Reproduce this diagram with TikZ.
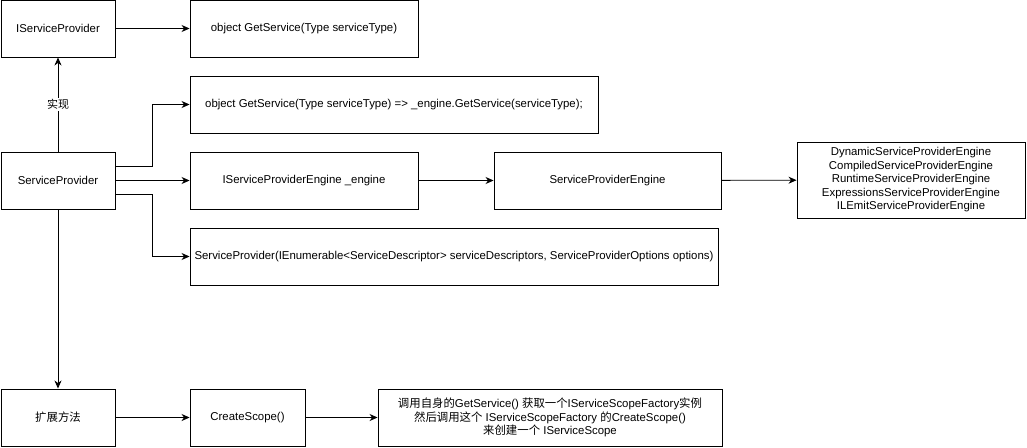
\documentclass[tikz,border=0pt]{standalone}
\usepackage{fontspec}
\setmainfont{Liberation Sans}
\newfontfamily\cjk{Noto Sans CJK SC}
\usetikzlibrary{arrows.meta}
\begin{document}
\begin{tikzpicture}[x=1pt,y=-1pt,
  box/.style={draw,line width=0.9pt,inner sep=2pt,align=center,font=\fontsize{11.4}{13.5}\selectfont},
  conn/.style={line width=0.9pt,-{Stealth[length=8pt,width=7pt,inset=2.5pt]}}]
\useasboundingbox (0,0) rectangle (1027,447);
\node[box,minimum width=114pt,minimum height=57pt] (isp) at (58,28.5) {IServiceProvider};
\node[box,minimum width=228pt,minimum height=57pt] (gs1) at (304,28.5) {object GetService(Type serviceType)};
\node[box,minimum width=408pt,minimum height=57pt] (gs2) at (394,104.5) {object GetService(Type serviceType) => \_engine.GetService(serviceType);};
\node[box,minimum width=114pt,minimum height=57pt] (sp) at (58,180.5) {ServiceProvider};
\node[box,minimum width=228pt,minimum height=57pt] (ispe) at (304,180.5) {IServiceProviderEngine \_engine};
\node[box,minimum width=227pt,minimum height=57pt] (spe) at (607.5,180.5) {ServiceProviderEngine};
\node[box,minimum width=228pt,minimum height=76pt] (eng) at (911,180) {DynamicServiceProviderEngine\\CompiledServiceProviderEngine\\RuntimeServiceProviderEngine\\ExpressionsServiceProviderEngine\\ILEmitServiceProviderEngine};
\node[box,minimum width=528pt,minimum height=57pt] (ctor) at (454,256.5) {ServiceProvider(IEnumerable<ServiceDescriptor> serviceDescriptors, ServiceProviderOptions options)};
\node[box,minimum width=114pt,minimum height=57pt] (ext) at (58,417.5) {\cjk 扩展方法};
\node[box,minimum width=115pt,minimum height=57pt] (cs) at (247.5,417.5) {CreateScope()};
\node[box,minimum width=344pt,minimum height=57pt] (desc) at (550,417.5) {{\cjk 调用自身的}GetService() {\cjk 获取一个}IServiceScopeFactory{\cjk 实例}\\{\cjk 然后调用这个} IServiceScopeFactory {\cjk 的}CreateScope()\\{\cjk 来创建一个} IServiceScope};
\draw[conn] (isp) -- (gs1);
\draw[conn] (sp) -- node[fill=white,inner sep=1pt,font=\cjk\fontsize{11}{12}\selectfont,pos=0.5]{实现} (isp);
\draw[conn] ([yshift=14pt]sp.east) -| ++(37,0) |- (gs2.west);
\draw[conn] (sp) -- (ispe);
\draw[conn] ([yshift=-14pt]sp.east) -| ++(37,0) |- (ctor.west);
\draw[conn] (sp) -- (ext);
\draw[conn] (ispe) -- (spe);
\draw[conn] (spe) -- (eng);
\draw[conn] (ext) -- (cs);
\draw[conn] (cs) -- (desc);
\end{tikzpicture}
\end{document}
